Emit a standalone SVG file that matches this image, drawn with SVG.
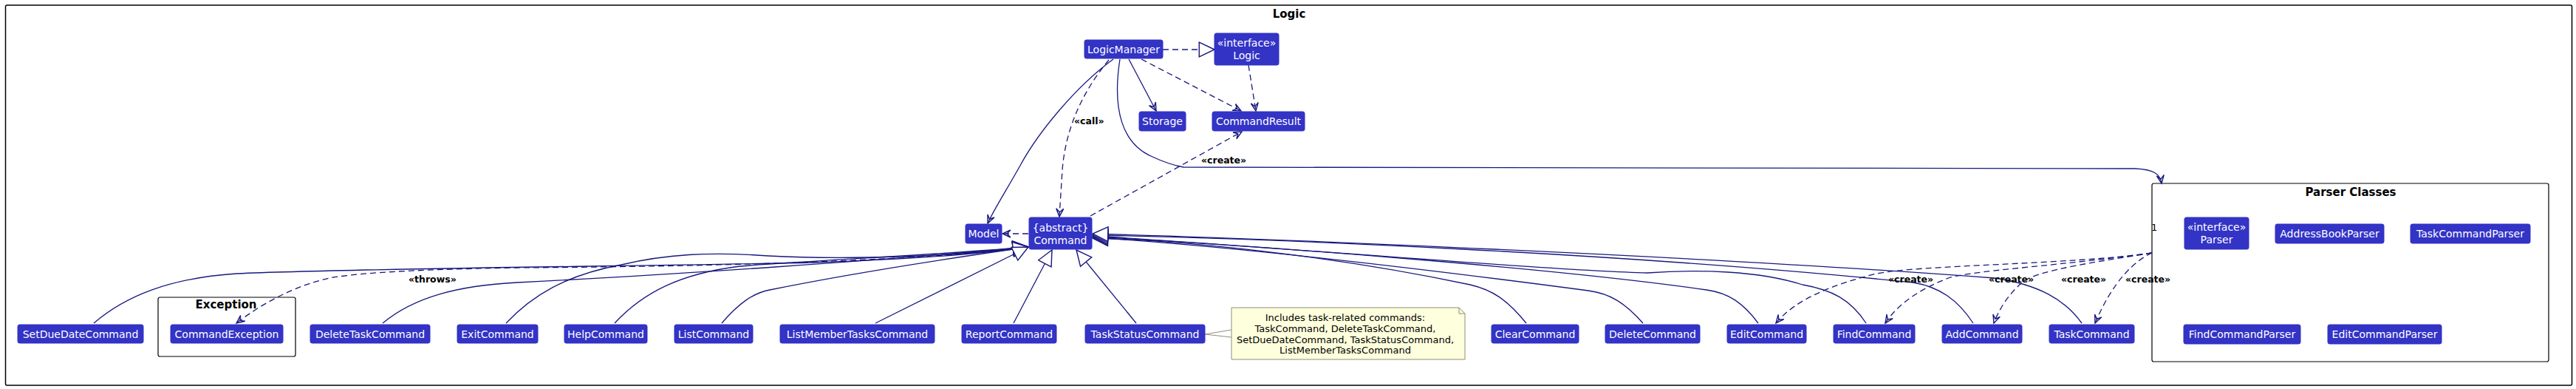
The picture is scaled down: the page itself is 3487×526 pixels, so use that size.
<svg xmlns="http://www.w3.org/2000/svg" width="3487" height="526" viewBox="0 0 3487 526">
<style>
.frame{fill:none;stroke:#000;stroke-width:1.5}
.box rect{fill:#3333C6;stroke:#3333C6;stroke-width:1}
.box text{fill:#fff;font-family:"DejaVu Sans",sans-serif;font-size:14px;text-anchor:middle}
.title{font-family:"DejaVu Sans",sans-serif;font-size:15px;font-weight:bold;text-anchor:middle;fill:#000}
.lbl{font-family:"DejaVu Sans",sans-serif;font-size:12.5px;font-weight:bold;fill:#000}
.mult{font-family:"DejaVu Sans",sans-serif;font-size:13px;fill:#000}
.note rect,.note path{fill:#FEFFDD;stroke:#8E8E7A;stroke-width:1}
.note text{font-family:"DejaVu Sans",sans-serif;font-size:13px;fill:#000;text-anchor:middle}
.c path{fill:none;stroke:#18187F;stroke-width:1.3}
.c .d{stroke-dasharray:8,5}
.c .ext{marker-end:url(#tri)}
.c .arr{marker-end:url(#open)}
</style>
<defs>
<marker id="tri" markerUnits="userSpaceOnUse" markerWidth="24" markerHeight="24" viewBox="-20 -11 22 22" refX="0" refY="0" orient="auto">
<path d="M0,0 L-19,-9 L-19,9 Z" fill="#fff" stroke="#18187F" stroke-width="1.3"/>
</marker>
<marker id="open" markerUnits="userSpaceOnUse" markerWidth="16" markerHeight="16" viewBox="-13 -8 15 16" refX="0" refY="0" orient="auto">
<path d="M-11,-5 L0,0 L-11,5 M-11,-5 L-6,0 L-11,5" fill="none" stroke="#18187F" stroke-width="1.4"/>
</marker>
</defs>
<rect width="3487" height="526" fill="#fff"/>

<g id="logic-package">
<rect class="frame" x="7.5" y="7" width="3474" height="514" rx="2"/>
<text class="title" x="1745" y="24">Logic</text>
</g>

<g id="exception-package">
<rect class="frame" x="214" y="402" width="186" height="80" rx="2.5" style="stroke-width:1.2"/>
<text class="title" x="306" y="417">Exception</text>
</g>

<g id="parser-classes">
<rect class="frame" x="2913" y="248" width="537" height="241" rx="2.5" style="stroke-width:1.2"/>
<text class="title" x="3182" y="265">Parser Classes</text>
</g>

<g class="c" id="connectors">
<path class="d" d="M1574,67 L1644,67" marker-end="url(#tri)"/>
<path class="arr" d="M1528,80 L1565,150"/>
<path class="d arr" d="M1545,80 L1680,150"/>
<path class="d arr" d="M1690,88 L1700,150"/>
<path class="arr" d="M1507,80 C1455,118 1405,180 1382,222 C1362,258 1346,282 1337,302"/>
<path class="d arr" d="M1501,81 C1462,128 1442,178 1438,230 L1434,293"/>
<path class="arr" d="M1516,80 C1505,150 1520,195 1560,212 C1575,219 1590,224 1602,226 L2890,228 C2915,229 2924,235 2926,248"/>
<path class="d arr" d="M1476,292 L1681,178"/>
<path class="d arr" d="M1392,316 L1357,316"/>
<path class="d arr" d="M1392,334 C1250,352 1000,360 700,362 C580,364 490,368 446,376 C400,386 355,410 320,437"/>

<path class="ext" d="M127,437 C170,400 230,376 320,370 C500,362 900,360 1100,355 C1250,350 1340,342 1392,334"/>
<path class="ext" d="M518,437 C560,402 620,386 700,382 C900,372 1200,352 1392,334"/>
<path class="ext" d="M685,437 C720,400 765,372 841,358 C900,344 960,340 1040,346 C1150,352 1300,346 1392,334"/>
<path class="ext" d="M832,437 C870,396 920,370 1002,360 C1100,352 1250,346 1392,334"/>
<path class="ext" d="M977,437 C1000,410 1020,396 1042,392 C1150,370 1280,350 1392,334"/>
<path class="ext" d="M1185,437 L1392,334"/>
<path class="ext" d="M1372,437 L1424,338"/>
<path class="ext" d="M1538,437 L1457,338"/>

<path class="ext" d="M2066,437 C2040,405 2020,392 1990,385 C1800,345 1600,325 1479,322"/>
<path class="ext" d="M2224,437 C2200,410 2180,397 2150,393 C1900,360 1650,332 1479,321"/>
<path class="ext" d="M2380,437 C2360,410 2340,396 2310,392 C2100,362 1700,332 1479,320"/>
<path class="ext" d="M2526,437 C2505,405 2480,392 2440,385 C2380,366 2300,364 2230,369 C2100,366 1700,332 1479,319"/>
<path class="ext" d="M2671,437 C2650,405 2625,388 2590,382 C2200,342 1700,322 1479,318"/>
<path class="ext" d="M2818,437 C2795,405 2760,385 2700,376 C2300,346 1700,322 1479,316"/>

<path class="d arr" d="M2913,342 C2800,358 2600,358 2540,370 C2480,385 2430,405 2404,437"/>
<path class="d arr" d="M2913,342 C2800,358 2680,365 2640,375 C2600,390 2570,410 2552,437"/>
<path class="d arr" d="M2913,342 C2850,352 2760,365 2740,380 C2720,395 2705,420 2699,437"/>
<path class="d arr" d="M2913,342 C2890,352 2860,380 2836,437"/>
<path d="M1631,452 L1667,446 M1631,452 L1667,456" style="stroke:#8E8E7A;stroke-width:1"/>
</g>

<g id="labels">
<text class="lbl" x="1454" y="168">«call»</text>
<text class="lbl" x="1626" y="221">«create»</text>
<text class="lbl" x="553" y="382">«throws»</text>
<text class="lbl" x="2556" y="382">«create»</text>
<text class="lbl" x="2692" y="382">«create»</text>
<text class="lbl" x="2790" y="382">«create»</text>
<text class="lbl" x="2877" y="382">«create»</text>
<text class="mult" x="2912" y="312">1</text>
</g>

<g id="LogicManager" class="box"><rect x="1468" y="54" width="106" height="25" rx="2.5"/><text x="1521" y="72">LogicManager</text></g>
<g id="Logic" class="box"><rect x="1644" y="45" width="87" height="43" rx="2.5"/><text x="1687.5" y="63">«interface»</text><text x="1687.5" y="80">Logic</text></g>
<g id="Storage" class="box"><rect x="1542" y="151" width="63" height="26" rx="2.5"/><text x="1573.5" y="169">Storage</text></g>
<g id="CommandResult" class="box"><rect x="1641" y="151" width="125" height="26" rx="2.5"/><text x="1703.5" y="169">CommandResult</text></g>
<g id="Model" class="box"><rect x="1307" y="303" width="49" height="26" rx="2.5"/><text x="1331.5" y="321">Model</text></g>
<g id="Command" class="box"><rect x="1393" y="294" width="85" height="43" rx="2.5"/><text x="1435.5" y="313">{abstract}</text><text x="1435.5" y="330">Command</text></g>

<g id="SetDueDateCommand" class="box"><rect x="24" y="439" width="170" height="25" rx="2.5"/><text x="109" y="457">SetDueDateCommand</text></g>
<g id="CommandException" class="box"><rect x="231" y="439" width="152" height="25" rx="2.5"/><text x="307" y="457">CommandException</text></g>
<g id="DeleteTaskCommand" class="box"><rect x="420" y="439" width="162" height="25" rx="2.5"/><text x="501" y="457">DeleteTaskCommand</text></g>
<g id="ExitCommand" class="box"><rect x="619" y="439" width="109" height="25" rx="2.5"/><text x="673.5" y="457">ExitCommand</text></g>
<g id="HelpCommand" class="box"><rect x="764" y="439" width="112" height="25" rx="2.5"/><text x="820" y="457">HelpCommand</text></g>
<g id="ListCommand" class="box"><rect x="913" y="439" width="106" height="25" rx="2.5"/><text x="966" y="457">ListCommand</text></g>
<g id="ListMemberTasksCommand" class="box"><rect x="1056" y="439" width="209" height="25" rx="2.5"/><text x="1160.5" y="457">ListMemberTasksCommand</text></g>
<g id="ReportCommand" class="box"><rect x="1302" y="439" width="128" height="25" rx="2.5"/><text x="1366" y="457">ReportCommand</text></g>
<g id="TaskStatusCommand" class="box"><rect x="1469" y="439" width="162" height="25" rx="2.5"/><text x="1550" y="457">TaskStatusCommand</text></g>
<g id="ClearCommand" class="box"><rect x="2019" y="439" width="118" height="25" rx="2.5"/><text x="2078" y="457">ClearCommand</text></g>
<g id="DeleteCommand" class="box"><rect x="2173" y="439" width="128" height="25" rx="2.5"/><text x="2237" y="457">DeleteCommand</text></g>
<g id="EditCommand" class="box"><rect x="2338" y="439" width="107" height="25" rx="2.5"/><text x="2391.5" y="457">EditCommand</text></g>
<g id="FindCommand" class="box"><rect x="2482" y="439" width="110" height="25" rx="2.5"/><text x="2537" y="457">FindCommand</text></g>
<g id="AddCommand" class="box"><rect x="2629" y="439" width="108" height="25" rx="2.5"/><text x="2683" y="457">AddCommand</text></g>
<g id="TaskCommand" class="box"><rect x="2774" y="439" width="115" height="25" rx="2.5"/><text x="2831.5" y="457">TaskCommand</text></g>

<g id="Parser" class="box"><rect x="2957" y="294" width="87" height="43" rx="2.5"/><text x="3000.5" y="312">«interface»</text><text x="3000.5" y="329">Parser</text></g>
<g id="AddressBookParser" class="box"><rect x="3080" y="303" width="147" height="26" rx="2.5"/><text x="3153.5" y="321">AddressBookParser</text></g>
<g id="TaskCommandParser" class="box"><rect x="3263" y="303" width="162" height="26" rx="2.5"/><text x="3344" y="321">TaskCommandParser</text></g>
<g id="FindCommandParser" class="box"><rect x="2956" y="439" width="158" height="26" rx="2.5"/><text x="3035" y="457">FindCommandParser</text></g>
<g id="EditCommandParser" class="box"><rect x="3151" y="439" width="154" height="26" rx="2.5"/><text x="3228" y="457">EditCommandParser</text></g>

<g id="note" class="note">
<path d="M1667,416 L1975,416 L1983,424 L1983,486 L1667,486 Z"/>
<path d="M1975,416 L1975,424 L1983,424" style="fill:none"/>
<text x="1821" y="434">Includes task-related commands:</text>
<text x="1821" y="449">TaskCommand, DeleteTaskCommand,</text>
<text x="1821" y="464">SetDueDateCommand, TaskStatusCommand,</text>
<text x="1821" y="478">ListMemberTasksCommand</text>
</g>
</svg>
